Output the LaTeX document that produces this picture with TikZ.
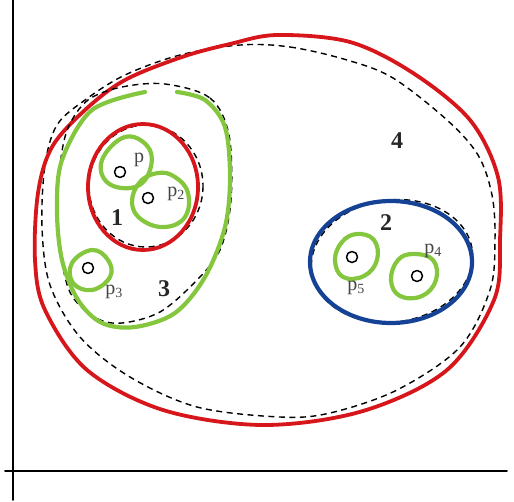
\documentclass[tikz,border=0pt]{standalone}
\usepackage{fontspec}
\setmainfont{Liberation Serif}
\begin{document}
\begin{tikzpicture}[x=1pt,y=-1pt,line join=round,line cap=round]
\definecolor{cred}{RGB}{214,22,26}
\definecolor{cgreen}{RGB}{132,198,62}
\definecolor{cblue}{RGB}{22,66,150}
\definecolor{cgray}{RGB}{70,70,70}
\tikzset{
  redline/.style={draw=cred,line width=3.8pt},
  greenline/.style={draw=cgreen,line width=4.2pt},
  blueline/.style={draw=cblue,line width=4.2pt},
  dashline/.style={draw=black,line width=1.4pt,line cap=butt,dash pattern=on 6pt off 4.5pt},
  axisline/.style={draw=black,line width=1.8pt},
  pt/.style={circle,draw=black,line width=1.5pt,minimum size=11pt,inner sep=0pt},
  plab/.style={text=cgray,font=\fontsize{20}{20}\selectfont,inner sep=0pt},
  clab/.style={text=black!85,font=\fontsize{24}{24}\selectfont\bfseries,inner sep=0pt}
}
\useasboundingbox (0,0) rectangle (514,501);
% axes
\coordinate (ytop) at (13,0);
\coordinate (ybot) at (13,500);
\coordinate (xl) at (5,471);
\coordinate (xr) at (507,471);
\draw[axisline] (ytop) -- (ybot);
\draw[axisline] (xl) -- (xr);
% big dashed region 4
\draw[dashline] plot[smooth cycle,tension=0.55] coordinates {(240,45) (290,47) (347,60) (393,78) (447,120) (478,155) (492,195) (495,240) (490,290) (460,347) (397,390) (330,413) (280,417) (197,407) (130,377) (80,337) (50,285) (42,227) (45,165) (57,125) (85,100) (125,75) (180,55)};
% big red region 4
\draw[redline] plot[smooth cycle,tension=0.55] coordinates {(277,35) (350,42) (413,73) (470,120) (498,177) (500,240) (494,300) (447,370) (363,411) (263,425) (163,410) (87,370) (45,310) (35,260) (38,193) (52,147) (85,110) (125,80) (182,57) (230,44)};
% dashed region 3
\draw[dashline] plot[smooth cycle,tension=0.55] coordinates {(165,84) (210,98) (229,135) (231,200) (220,250) (195,282) (160,312) (122,323) (96,318) (72,296) (62,262) (57,212) (60,165) (68,128) (88,100) (122,87)};
% green region 3 (open at top)
\draw[greenline] plot[smooth,tension=0.55] coordinates {(177,92) (205,100) (225,127) (230,177) (225,227) (205,277) (175,313) (135,327) (102,323) (78,300) (62,260) (57,210) (62,160) (92,110) (145,92)};
% dashed region 1
\draw[dashline] (146,186) ellipse (57 and 61);
% red region 1
\draw[redline] (143,187) ellipse (55 and 63);
% dashed region 2
\draw[dashline,rotate around={8:(392,261)}] (392,261) ellipse (81 and 61);
% blue region 2
\draw[blueline] (391,262) ellipse (81 and 61);
% green small regions
\draw[greenline] plot[smooth cycle,tension=0.7] coordinates {(125,137) (148,147) (150,170) (135,187) (108,183) (102,160)};
\draw[greenline] plot[smooth cycle,tension=0.7] coordinates {(158,173) (175,177) (188,193) (185,217) (165,227) (142,220) (132,203) (140,182)};
\draw[greenline] plot[smooth cycle,tension=0.7] coordinates {(92,250) (108,260) (110,277) (92,290) (73,283) (72,263)};
\draw[greenline] plot[smooth cycle,tension=0.7] coordinates {(357,234) (374,240) (377,260) (364,276) (343,277) (335,260) (342,242)};
\draw[greenline] plot[smooth cycle,tension=0.7] coordinates {(414,254) (433,260) (436,280) (422,296) (400,296) (391,280) (398,260)};
% points
\node[pt] (p1) at (120,172) {};
\node[pt] (p2) at (148,198) {};
\node[pt] (p3) at (88,268) {};
\node[pt] (p4) at (417,276) {};
\node[pt] (p5) at (352,257) {};
% labels
\node[plab] (lp1) at (139,160) {p};
\node[plab] (lp2) at (176,194) {p\textsubscript{2}};
\node[plab] (lp3) at (114,292) {p\textsubscript{3}};
\node[plab] (lp4) at (433,251) {p\textsubscript{4}};
\node[plab] (lp5) at (356,288) {p\textsubscript{5}};
\node[clab] (l1) at (117,218) {1};
\node[clab] (l2) at (386,223) {2};
\node[clab] (l3) at (164,289) {3};
\node[clab] (l4) at (397,141) {4};
\end{tikzpicture}
\end{document}
